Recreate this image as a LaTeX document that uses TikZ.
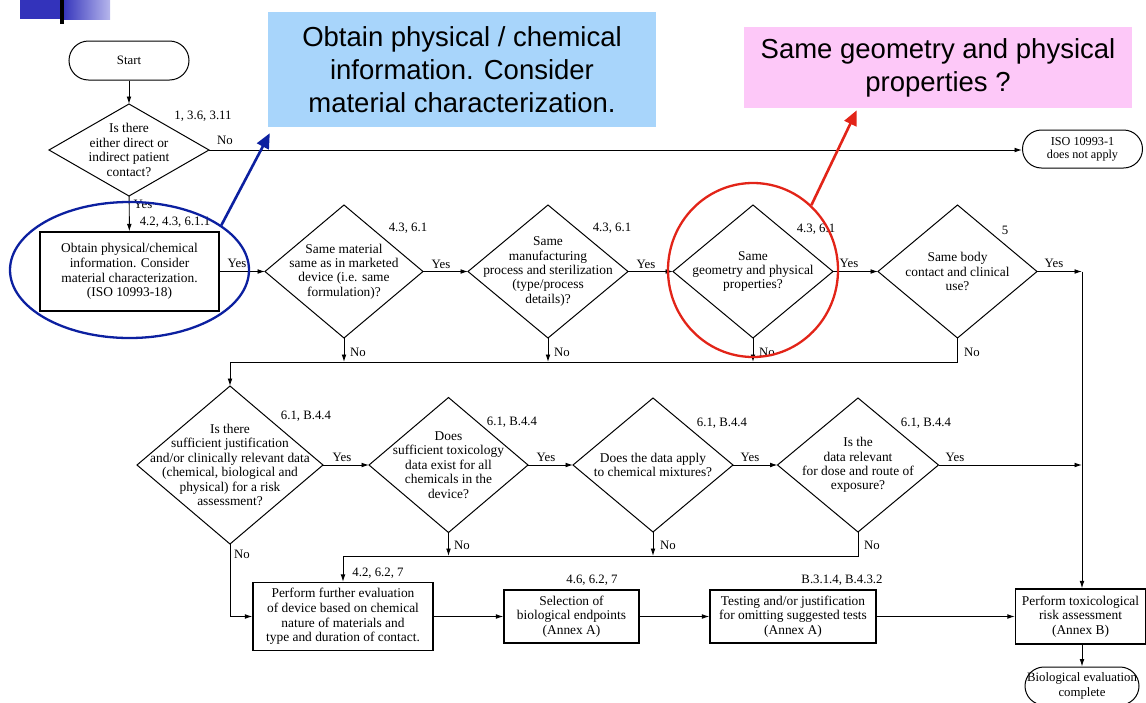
\documentclass[tikz,border=0pt]{standalone}
\usepackage{fontspec}
\setmainfont{Liberation Serif}
\newfontfamily\calloutfont{Liberation Sans}
\usetikzlibrary{shapes.geometric, arrows.meta}

\definecolor{calloutblue}{RGB}{168,213,251}
\definecolor{calloutpink}{RGB}{253,200,248}
\definecolor{markblue}{RGB}{12,32,160}
\definecolor{markred}{RGB}{226,36,24}
\definecolor{bardark}{RGB}{51,51,187}
\definecolor{barlight}{RGB}{182,182,236}

\begin{document}
\begin{tikzpicture}[x=1pt, y=-1pt,
  flow/.style={line width=0.95pt},
  arr/.style={flow, -{Latex[length=7.5pt, width=4.8pt]}},
  qtext/.style={align=center, font=\fontsize{13.4}{14.4}\selectfont, inner sep=0pt},
  dia/.style={draw, diamond, line width=1pt, inner sep=0pt, outer sep=0pt},
  procbox/.style={draw, rectangle, line width=1.3pt, align=center, inner sep=0pt,
                  font=\fontsize{13.4}{14.6}\selectfont},
  term/.style={draw, rectangle, line width=1pt, align=center, inner sep=0pt},
  ref/.style={font=\fontsize{12.8}{14}\selectfont, inner sep=0pt},
  callout/.style={align=center, inner sep=0pt, font=\calloutfont\fontsize{27.5}{33}\selectfont},
  ring/.style={draw, ellipse, line width=2.3pt, inner sep=0pt},
  pointer/.style={line width=2.6pt, -{Triangle[length=15pt, width=13pt]}},
]
\useasboundingbox (0,0) rectangle (1146,702);

% slide header mark
\fill[bardark] (20,0) rectangle (62,19);
\shade[left color=bardark, right color=barlight] (62,0) rectangle (110,19);
\fill[black] (60,0) rectangle (64,24);

% ---- top row ----
\node[term, minimum width=120pt, minimum height=39pt, rounded corners=19.5pt,
      font=\fontsize{12.8}{14}\selectfont] (start) at (129,60.5) {Start};

\node[dia, minimum width=160pt, minimum height=92pt,
      label={[qtext]center:{Is there\\either direct or\\indirect patient\\contact?}}] (d1) at (129,150) {};

\node[term, minimum width=120pt, minimum height=38pt, rounded corners=19pt,
      font=\fontsize{12.2}{13.3}\selectfont] (iso) at (1082.5,149) {ISO 10993-1\\does not apply};

\node[procbox, minimum width=179pt, minimum height=79pt] (box1) at (129.5,271.5)
  {Obtain physical/chemical\\information. Consider\\material characterization.\\(ISO 10993-18)};

\node[dia, minimum width=158pt, minimum height=133pt,
      label={[qtext]center:{Same material\\same as in marketed\\device (i.e. same\\formulation)?}}] (d2) at (344,271.5) {};
\node[dia, minimum width=160pt, minimum height=133pt,
      label={[qtext]center:{Same\\manufacturing\\process and sterilization\\(type/process\\details)?}}] (d3) at (548,271.5) {};
\node[dia, minimum width=160pt, minimum height=133pt,
      label={[qtext]center:{Same\\geometry and physical\\properties?}}] (d4) at (753,271.5) {};
\node[dia, minimum width=159pt, minimum height=133pt,
      label={[qtext]center:{Same body\\contact and clinical\\use?}}] (d5) at (957.5,271.5) {};

% ---- middle row ----
\node[dia, minimum width=186pt, minimum height=158pt,
      label={[qtext]center:{Is there\\sufficient justification\\and/or clinically relevant data\\(chemical, biological and\\physical) for a risk\\assessment?}}] (d6) at (230,465) {};
\node[dia, minimum width=159pt, minimum height=135pt,
      label={[qtext]center:{Does\\sufficient toxicology\\data exist for all\\chemicals in the\\device?}}] (d7) at (448.5,465) {};
\node[dia, minimum width=160pt, minimum height=134pt,
      label={[qtext]center:{Does the data apply\\to chemical mixtures?}}] (d8) at (653,465) {};
\node[dia, minimum width=161pt, minimum height=134pt,
      label={[qtext]center:{Is the\\data relevant\\for dose and route of\\exposure?}}] (d9) at (858,465) {};

% ---- bottom row ----
\node[procbox, minimum width=180pt, minimum height=68pt] (box2) at (343,616.5)
  {Perform further evaluation\\of device based on chemical\\nature of materials and\\type and duration of contact.};
\node[procbox, minimum width=135pt, minimum height=53pt] (box3) at (571.5,616.5)
  {Selection of\\biological endpoints\\(Annex A)};
\node[procbox, minimum width=166pt, minimum height=53pt] (box4) at (793,616.5)
  {Testing and/or justification\\for omitting suggested tests\\(Annex A)};
\node[procbox, minimum width=130pt, minimum height=55pt] (box5) at (1080.5,616.5)
  {Perform toxicological\\risk assessment\\(Annex B)};
\node[term, minimum width=114pt, minimum height=38pt, rounded corners=19pt,
      font=\fontsize{12.8}{14.3}\selectfont] (bio) at (1082,686) {Biological evaluation\\complete};

% routing points
\coordinate (j1) at (1082,271.5);
\coordinate (j2) at (1082,465);
\coordinate (b1l) at (230,362);
\coordinate (b1r) at (957.5,362);
\coordinate (b2l) at (343,556);
\coordinate (b2r) at (858,556);
\coordinate (c6) at (230,616.5);

% ---- connectors ----
\draw[arr] (start) -- (d1);
\draw[arr] (d1.east) -- (d1.east -| iso.west);
\draw[arr] (d1) -- (box1);
\draw[arr] (box1) -- (d2);
\draw[arr] (d2) -- (d3);
\draw[arr] (d3) -- (d4);
\draw[arr] (d4) -- (d5);
\draw[arr] (d5.east) -- (j1);
\draw[arr] (j1) -- (j1 |- box5.north);

\draw[arr] (d2.south) -- (d2.south |- b1l);
\draw[arr] (d3.south) -- (d3.south |- b1l);
\draw[arr] (d4.south) -- (d4.south |- b1l);
\draw[flow] (d5.south) -- (b1r) -- (b1l);
\draw[arr] (b1l) -- (d6.north);

\draw[arr] (d6) -- (d7);
\draw[arr] (d7) -- (d8);
\draw[arr] (d8) -- (d9);
\draw[arr] (d9.east) -- (j2);

\draw[arr] (d7.south) -- (d7.south |- b2l);
\draw[arr] (d8.south) -- (d8.south |- b2l);
\draw[flow] (d9.south) -- (b2r) -- (b2l);
\draw[arr] (b2l) -- (box2.north);
\draw[flow] (d6.south) -- (c6);
\draw[arr] (c6) -- (box2.west);

\draw[arr] (box2) -- (box3);
\draw[arr] (box3) -- (box4);
\draw[arr] (box4) -- (box5);
\draw[arr] (j1 |- box5.south) -- (j1 |- bio.north);

% ---- connector labels and clause references ----
\node[ref] (r1) at (203,116) {1, 3.6, 3.11};
\node[ref] (n1) at (225,140) {No};
\node[ref] (y1) at (143,204) {Yes};
\node[ref] (r2) at (175,222) {4.2, 4.3, 6.1.1};
\node[ref] (y2) at (237,263) {Yes};
\node[ref] (r3) at (408,228) {4.3, 6.1};
\node[ref] (y3) at (441,264) {Yes};
\node[ref] (r4) at (612,228) {4.3, 6.1};
\node[ref] (y4) at (646,264) {Yes};
\node[ref] (r5) at (816,229) {4.3, 6.1};
\node[ref] (y5) at (849,263) {Yes};
\node[ref] (r6) at (1005,230) {5};
\node[ref] (y6) at (1054,263) {Yes};
\node[ref] (n2) at (358,352) {No};
\node[ref] (n3) at (562,352) {No};
\node[ref] (n4) at (767,352) {No};
\node[ref] (n5) at (972,352) {No};

\node[ref] (r7) at (306,416) {6.1, B.4.4};
\node[ref] (y7) at (342,457) {Yes};
\node[ref] (r8) at (512,422) {6.1, B.4.4};
\node[ref] (y8) at (546,457) {Yes};
\node[ref] (r9) at (722,423) {6.1, B.4.4};
\node[ref] (y9) at (750,457) {Yes};
\node[ref] (r10) at (926,423) {6.1, B.4.4};
\node[ref] (y10) at (955,457) {Yes};
\node[ref] (n6) at (242,554) {No};
\node[ref] (n7) at (462,545) {No};
\node[ref] (n8) at (668,545) {No};
\node[ref] (n9) at (872,545) {No};

\node[ref] (r11) at (378,573) {4.2, 6.2, 7};
\node[ref] (r12) at (592,580) {4.6, 6.2, 7};
\node[ref] (r13) at (842,580) {B.3.1.4, B.4.3.2};

% ---- highlight rings and callouts ----
\node[ring, draw=markblue, minimum width=239pt, minimum height=136pt] (ring1) at (129.5,270) {};
\node[ring, draw=markred, minimum width=170pt, minimum height=174pt] (ring2) at (753,270) {};

\node[callout, fill=calloutblue, minimum width=388pt, minimum height=115pt] (cb) at (462,69.5)
  {Obtain physical / chemical\\information. Consider\\material characterization.};
\node[callout, fill=calloutpink, minimum width=388pt, minimum height=81pt] (cp) at (938,67.5)
  {Same geometry and physical\\properties ?};

\draw[pointer, markblue] (ring1.26) -- ([xshift=2pt, yshift=-6pt]cb.south west);
\draw[pointer, markred] (ring2.48) -- ([xshift=113pt, yshift=-2pt]cp.south west);
\end{tikzpicture}
\end{document}
